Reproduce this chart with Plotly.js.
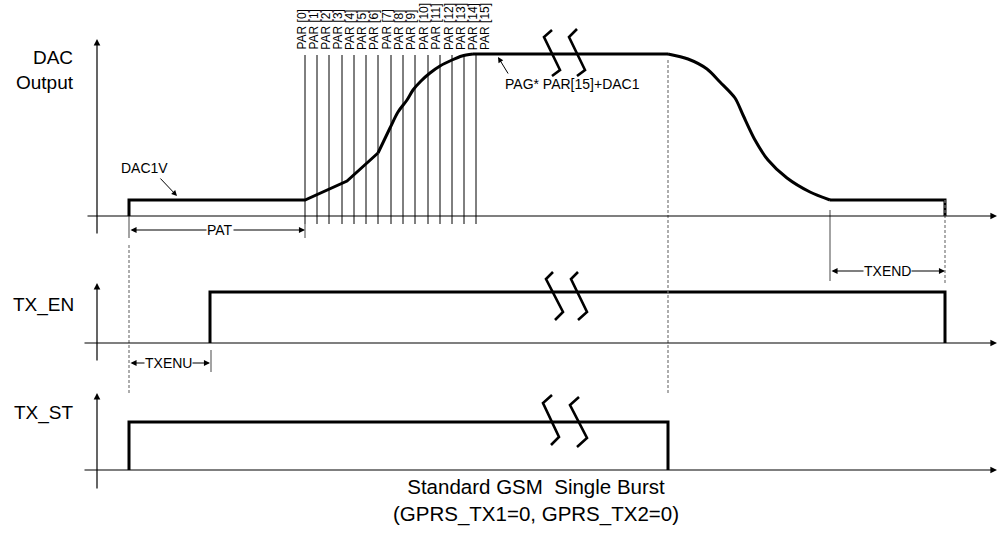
<!DOCTYPE html>
<html><head><meta charset="utf-8">
<script src="https://cdn.plot.ly/plotly-3.0.1.min.js"></script>
<style>html,body{margin:0;padding:0;background:#fff}#chart{width:998px;height:534px}</style>
</head><body><div id="chart"></div>
<script>
// ---- Diagram data (time along x, level along y; diagram units) ----
// DAC output: pedestal + PAR ramp steps, smooth top of ramp, plateau, smooth ramp-down, end pedestal
const dacStepT = [129,129,305,347,378];
const dacStepV = [216,200,200,181,153];
const dacRiseT = [378,390,398,407,413,421,430,440,452,462,473];
const dacRiseV = [153,128,112,100,90,81,73,66,60,56,54];
const dacFlatT = [473,668];
const dacFlatV = [54,54];
const dacFallT = [668,688,707,720,735,743,755,768,787,810,830];
const dacFallV = [54,59,69,82,98,115,140,160,178,192,200];
const dacEndT = [830,945,945];
const dacEndV = [200,200,216];
const txEnT = [210,210,945,945];
const txEnV = [343,292,292,343];
const txStT = [129,129,668,668];
const txStV = [470,422,422,470];
const parT = [305,317,329,342,354,366,378,391,403,415,428,440,452,464,476];
const parLineTop = 55, parLineBottom = 224;
const parLabels = ['PAR [0]','PAR [1]','PAR [2]','PAR [3]','PAR [4]','PAR [5]','PAR [6]','PAR [7]','PAR [8]','PAR [9]','PAR [10]','PAR [11]','PAR [12]','PAR [13]','PAR [14]','PAR [15]'];
const parLabelT = [301.5,313.5,325.7,337.5,350,362,374,386.5,399,411,423.5,435.7,448.5,460.5,472.7,484.5];
// break marks (zigzags)
const breakT = [552,544,560,552,null,577,569,585,577,null, 553,546,563,555,null,578,571,587,578,null, 552,543,559,551,null,579,570,587,577];
const breakV = [30,37,70,76,null,29,37,70,76,null, 272,279,312,320,null,272,279,312,320,null, 395,403,437,445,null,397,405,438,447];
// dashed guides
const dashT = [129,129,null,668,668,null,945,945];
const dashV = [245,395,null,60,395,null,200,283];
// solid thin guides / ticks
const tickT = [129,129,null,305,305,null,830,830,null,211,211];
const tickV = [216,238,null,224,238,null,210,281,null,350,372];
// axes: y-axis stems (x, bottom, top) and baselines (y, left, right)
const yAxT = [97,97,97], yAxBottom = [235,362,490], yAxTop = [39,283,393];
const baseV = [216,343,470], baseLeft = [86,83,83], baseRight = [997,997,997];
// dimension arrows
const dimFrom = [129,129,830], dimTo = [305,210,945], dimLevel = [230,363,271];
const dimLabels = ['PAT','TXENU','TXEND'], dimLabelT = [220,168,887];

const F = 'Liberation Sans, Arial, Helvetica, sans-serif';
const thick = {color:'#000',width:3};
const traces = [
  {x:dacStepT,y:dacStepV,mode:'lines',line:thick,hoverinfo:'skip'},
  {x:dacRiseT,y:dacRiseV,mode:'lines',line:Object.assign({shape:'spline',smoothing:0.8},thick),hoverinfo:'skip'},
  {x:dacFlatT,y:dacFlatV,mode:'lines',line:thick,hoverinfo:'skip'},
  {x:dacFallT,y:dacFallV,mode:'lines',line:Object.assign({shape:'spline',smoothing:0.8},thick),hoverinfo:'skip'},
  {x:dacEndT,y:dacEndV,mode:'lines',line:thick,hoverinfo:'skip'},
  {x:txEnT,y:txEnV,mode:'lines',line:thick,hoverinfo:'skip'},
  {x:txStT,y:txStV,mode:'lines',line:thick,hoverinfo:'skip'},
  {x:breakT,y:breakV,mode:'lines',line:{color:'#000',width:2.6},hoverinfo:'skip'},
  {x:dashT,y:dashV,mode:'lines',line:{color:'#777',width:1.2,dash:'3px,2px'},hoverinfo:'skip'},
  {x:tickT,y:tickV,mode:'lines',line:{color:'#666',width:1.2},hoverinfo:'skip'}
];
const px=[],py=[];
parT.forEach(t=>{px.push(t,t,null);py.push(parLineTop,parLineBottom,null);});
traces.push({x:px,y:py,mode:'lines',line:{color:'#000',width:1},hoverinfo:'skip'});

const ann = [];
yAxT.forEach((t,i)=>ann.push({x:t,y:yAxTop[i],ax:t,ay:yAxBottom[i],xref:'x',yref:'y',axref:'x',ayref:'y',text:'',showarrow:true,arrowhead:2,arrowsize:1.1,arrowwidth:1.2,arrowcolor:'#000'}));
baseV.forEach((v,i)=>ann.push({x:baseRight[i],y:v,ax:baseLeft[i],ay:v,xref:'x',yref:'y',axref:'x',ayref:'y',text:'',showarrow:true,arrowhead:2,arrowsize:1.1,arrowwidth:1.2,arrowcolor:'#000'}));
dimFrom.forEach((t,i)=>{
  ann.push({x:dimTo[i],y:dimLevel[i],ax:t,ay:dimLevel[i],xref:'x',yref:'y',axref:'x',ayref:'y',text:'',showarrow:true,arrowhead:2,startarrowhead:2,arrowside:'end+start',arrowsize:1.1,startarrowsize:1.1,arrowwidth:1.1,arrowcolor:'#000'});
  ann.push({x:dimLabelT[i],y:dimLevel[i],xref:'x',yref:'y',text:dimLabels[i],showarrow:false,bgcolor:'#fff',borderpad:0,font:{family:F,size:14,color:'#000'}});
});
parLabels.forEach((s,i)=>ann.push({x:parLabelT[i],y:52,xref:'x',yref:'y',text:s,textangle:-90,showarrow:false,xanchor:'center',yanchor:'bottom',font:{family:F,size:12,color:'#000'}}));
ann.push({x:177,y:196,ax:159,ay:177,xref:'x',yref:'y',axref:'x',ayref:'y',text:'',showarrow:true,arrowhead:2,arrowsize:1.1,arrowwidth:1,arrowcolor:'#000'});
ann.push({x:144,y:168,xref:'x',yref:'y',text:'DAC1V',showarrow:false,font:{family:F,size:14,color:'#000'}});
ann.push({x:498,y:57,ax:509,ay:75,xref:'x',yref:'y',axref:'x',ayref:'y',text:'',showarrow:true,arrowhead:2,arrowsize:1.1,arrowwidth:1,arrowcolor:'#000'});
ann.push({x:503,y:84,xref:'x',yref:'y',text:'PAG* PAR[15]+DAC1',xanchor:'left',showarrow:false,font:{family:F,size:14,color:'#000'}});
ann.push({x:76,y:70,xref:'x',yref:'y',text:'DAC<br>Output',align:'right',xanchor:'right',showarrow:false,font:{family:F,size:19,color:'#000'}});
ann.push({x:76,y:305,xref:'x',yref:'y',text:'TX_EN',xanchor:'right',showarrow:false,font:{family:F,size:19,color:'#000'}});
ann.push({x:76,y:413,xref:'x',yref:'y',text:'TX_ST',xanchor:'right',showarrow:false,font:{family:F,size:19,color:'#000'}});
ann.push({x:536,y:500,xref:'x',yref:'y',text:'Standard GSM  Single Burst<br>(GPRS_TX1=0, GPRS_TX2=0)',showarrow:false,font:{family:F,size:20.5,color:'#000'}});

const layout = {
  width:998,height:534,margin:{l:0,r:0,t:0,b:0},
  paper_bgcolor:'#fff',plot_bgcolor:'#fff',showlegend:false,
  xaxis:{range:[0,998],visible:false,fixedrange:true},
  yaxis:{range:[534,0],visible:false,fixedrange:true},
  annotations:ann
};
Plotly.newPlot('chart',traces,layout,{displayModeBar:false,staticPlot:true});
</script></body></html>
